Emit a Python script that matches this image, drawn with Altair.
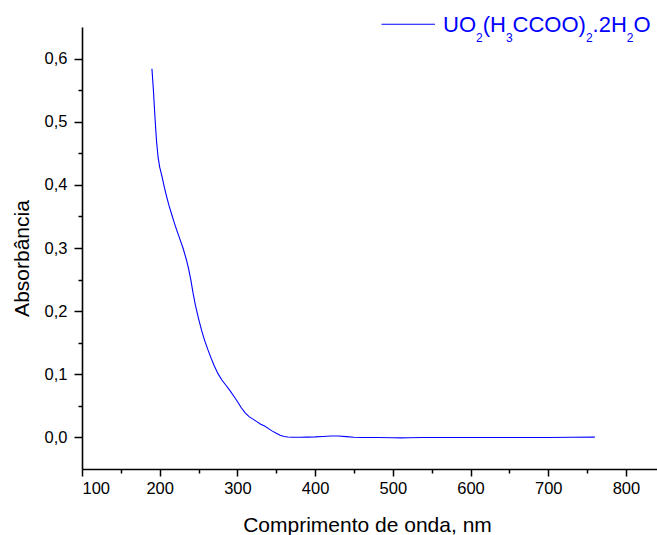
import altair as alt
import pandas as pd

# ---- data ----
wavelength = [190, 192, 194, 196, 198, 200, 203, 206, 209, 212, 215, 218, 222, 226, 230,
              234, 237, 240, 243, 246, 250, 254, 258, 262, 266, 270, 275, 280, 285, 290,
              295, 300, 305, 310, 315, 320, 325, 330, 335, 340, 345, 350, 355, 360, 365,
              370, 380, 390, 400, 410, 420, 430, 440, 450, 460, 480, 500, 510, 520, 540,
              560, 600, 650, 700, 730, 760]
absorbance = [0.584, 0.548, 0.505, 0.468, 0.443, 0.428, 0.413, 0.396, 0.381, 0.367, 0.355,
              0.343, 0.328, 0.314, 0.300, 0.283, 0.268, 0.250, 0.228, 0.209, 0.188, 0.169,
              0.153, 0.139, 0.126, 0.114, 0.101, 0.091, 0.083, 0.075, 0.066, 0.057, 0.047,
              0.039, 0.033, 0.029, 0.025, 0.021, 0.018, 0.014, 0.010, 0.0065, 0.0035, 0.0015,
              0.0006, 0.0004, 0.0004, 0.0005, 0.0008, 0.0015, 0.0022, 0.0022, 0.0012, 0.0003,
              0.0, -0.0002, -0.0004, -0.0007, -0.0004, -0.0002, 0.0, 0.0, 0.0, 0.0, 0.0002,
              0.0005]
x_ticks = list(range(100, 801, 50))
y_ticks = [round(i * 0.05, 2) for i in range(0, 13)]
legend_pieces = [("UO", False), ("2", True), ("(H", False), ("3", True), ("CCOO)", False),
                 ("2", True), (".2H", False), ("2", True), ("O", False)]

FONT = "Liberation Sans"
BLUE = "#0000ff"
W, H = 575, 442

df = pd.DataFrame({"x": wavelength, "y": absorbance})

x_axis = alt.Axis(
    values=x_ticks,
    labelExpr="datum.value % 100 === 0 ? datum.value : ''",
    tickSize={"condition": {"test": "datum.value % 100 !== 0", "value": 4}, "value": 7},
    title="Comprimento de onda, nm",
    titleX=285, titleY=62, titleBaseline="alphabetic", titleAlign="center",
    labelPadding=4, grid=False,
)
y_axis = alt.Axis(
    values=y_ticks,
    labelExpr="round(datum.value*100) % 10 === 0 ? replace(format(datum.value, '.1f'), '.', ',') : ''",
    tickSize={"condition": {"test": "round(datum.value*100) % 10 !== 0", "value": 4}, "value": 8},
    title="Absorbância",
    titleX=-54, titleY=231, titleBaseline="alphabetic", titleAlign="center", titleAngle=270,
    labelPadding=7, grid=False,
)

line = alt.Chart(df).mark_line(color=BLUE, strokeWidth=1.1).encode(
    x=alt.X("x:Q", scale=alt.Scale(domain=[100, 840], nice=False, zero=False), axis=x_axis),
    y=alt.Y("y:Q", scale=alt.Scale(domain=[-0.05, 0.65], nice=False, zero=False), axis=y_axis),
)

one = pd.DataFrame({"a": [0]})
layers = [line]
layers.append(
    alt.Chart(one).mark_rule(color=BLUE, strokeWidth=1.1).encode(
        x=alt.value(299.5), x2=alt.value(353), y=alt.value(-2.7)
    )
)

# Arial / Liberation Sans advance widths (per 1000 em)
adv = {"U": 722, "O": 778, "(": 333, ")": 333, "H": 722, "C": 722, ".": 278,
       "2": 556, "3": 556}
MAIN, SUB = 22, 12
cx = 361.0
for txt, sub in legend_pieces:
    size = SUB if sub else MAIN
    yb = 14.5 if sub else 4.7
    layers.append(
        alt.Chart(one).mark_text(
            font=FONT, fontSize=size, color=BLUE, align="left", baseline="alphabetic"
        ).encode(x=alt.value(cx), y=alt.value(yb), text=alt.value(txt))
    )
    cx += sum(adv[c] for c in txt) / 1000 * size

chart = alt.layer(*layers).properties(
    width=W, height=H,
    autosize="none",
    padding={"left": 82, "top": 27, "right": 0, "bottom": 66},
).configure_view(stroke=None).configure_axis(
    labelFont=FONT, labelFontSize=16.5, labelColor="black",
    titleFont=FONT, titleFontSize=21, titleFontWeight="normal", titleColor="black",
    domainColor="black", domainWidth=1.6, tickColor="black", tickWidth=1.5,
)

chart.save("out.html", embed_options={"renderer": "svg", "actions": False})
